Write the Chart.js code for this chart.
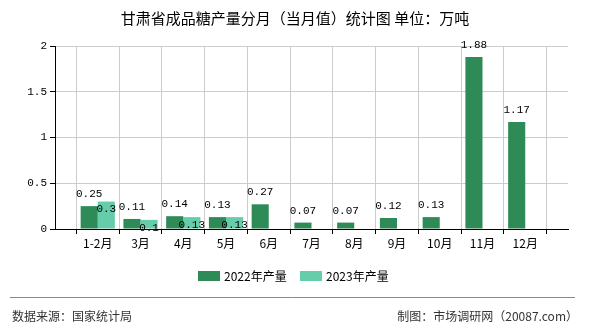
<!DOCTYPE html>
<html>
<head>
<meta charset="utf-8">
<script src="https://cdn.jsdelivr.net/npm/chart.js@4/dist/chart.umd.min.js"></script>
<style>
  html, body { margin: 0; padding: 0; background: #fff; }
  #wrap { width: 590px; height: 330px; }
</style>
</head>
<body>
<div id="wrap"><canvas id="chart" width="590" height="330"></canvas></div>
<script>
// chart data
const months = ['1-2月', '3月', '4月', '5月', '6月', '7月', '8月', '9月', '10月', '11月', '12月'];
const prod2022 = [0.25, 0.11, 0.14, 0.13, 0.27, 0.07, 0.07, 0.12, 0.13, 1.88, 1.17];
const prod2023 = [0.3, 0.1, 0.13, 0.13];
const yTicks = [0, 0.5, 1, 1.5, 2];

const titleText = '甘肃省成品糖产量分月（当月值）统计图 单位：万吨';
const seriesNames = ['2022年产量', '2023年产量'];
const colors = ['#2e8b57', '#66cdaa'];

// empty slot before the first month and after the last one
const labels = [''].concat(months, ['']);
const pad = (arr) => {
  const out = [null];
  months.forEach((m, i) => out.push(arr[i] === undefined ? null : arr[i]));
  out.push(null);
  return out;
};

const cjk = '"Noto Sans CJK SC", "Noto Sans", sans-serif';
const mono = '"Liberation Mono", "DejaVu Sans Mono", monospace';

// value labels, title, legend and footer
const decorPlugin = {
  id: 'decor',
  afterDatasetsDraw(chart) {
    const ctx = chart.ctx;
    ctx.save();
    ctx.font = '11px ' + mono;
    ctx.fillStyle = '#000';
    ctx.textAlign = 'center';
    ctx.textBaseline = 'middle';
    chart.data.datasets.forEach((ds, i) => {
      const meta = chart.getDatasetMeta(i);
      meta.data.forEach((bar, j) => {
        const v = ds.data[j];
        if (v === null || v === undefined) return;
        const y = i === 0 ? bar.y - 12 : bar.y + 8;
        ctx.fillText(String(v), bar.x, y);
      });
    });
    ctx.restore();
  },
  afterDraw(chart) {
    const ctx = chart.ctx;
    ctx.save();
    // title
    ctx.fillStyle = '#000';
    ctx.font = '15px ' + cjk;
    ctx.textAlign = 'center';
    ctx.textBaseline = 'middle';
    ctx.fillText(titleText, 295, 18);

    // legend
    ctx.font = '12px ' + cjk;
    ctx.textAlign = 'left';
    let x = 198;
    seriesNames.forEach((name, i) => {
      ctx.fillStyle = colors[i];
      ctx.fillRect(x, 271, 22, 10);
      ctx.fillStyle = '#000';
      ctx.fillText(name, x + 26, 276);
      x += 102;
    });

    // footer
    ctx.strokeStyle = '#888';
    ctx.lineWidth = 1;
    ctx.beginPath();
    ctx.moveTo(10, 297.5);
    ctx.lineTo(575, 297.5);
    ctx.stroke();
    ctx.fillStyle = '#333';
    ctx.font = '12px ' + cjk;
    ctx.textAlign = 'left';
    ctx.fillText('数据来源：国家统计局', 12, 316);
    ctx.textAlign = 'right';
    ctx.fillText('制图：市场调研网（20087.com）', 578, 316);
    ctx.restore();
  }
};

const ctx = document.getElementById('chart').getContext('2d');
new Chart(ctx, {
  type: 'bar',
  data: {
    labels: labels,
    datasets: [
      { label: seriesNames[0], data: pad(prod2022), backgroundColor: colors[0] },
      { label: seriesNames[1], data: pad(prod2023), backgroundColor: colors[1] }
    ]
  },
  options: {
    responsive: false,
    animation: false,
    devicePixelRatio: 1,
    categoryPercentage: 0.8,
    barPercentage: 1.0,
    layout: { padding: { left: 0, top: 46, right: 22, bottom: 71 } },
    plugins: {
      legend: { display: false },
      title: { display: false },
      tooltip: { enabled: false }
    },
    scales: {
      x: {
        offset: false,
        grid: { color: '#cccccc', tickColor: '#000', tickLength: 5 },
        border: { color: '#000' },
        ticks: {
          color: '#000',
          font: { family: cjk, size: 12 },
          padding: 2,
          maxRotation: 0,
          autoSkip: false
        },
        afterFit(scale) { scale.height = 30; }
      },
      y: {
        min: 0,
        max: 2,
        afterBuildTicks(scale) { scale.ticks = yTicks.map(v => ({ value: v })); },
        grid: { color: '#cccccc', tickColor: '#000', tickLength: 5 },
        border: { color: '#000' },
        ticks: {
          color: '#000',
          font: { family: mono, size: 11 },
          padding: 3,
          callback: (v) => String(v)
        },
        afterFit(scale) { scale.width = 55; }
      }
    }
  },
  plugins: [decorPlugin]
});
</script>
</body>
</html>
